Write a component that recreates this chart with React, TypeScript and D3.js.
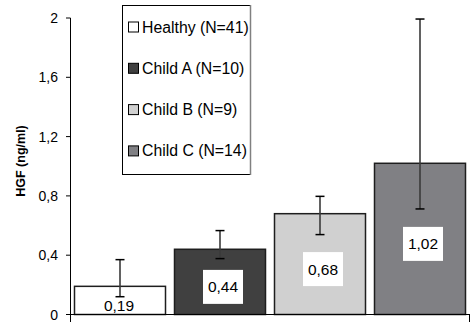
import React from "react";
import * as d3 from "d3";

const categories = ["Healthy (N=41)", "Child A (N=10)", "Child B (N=9)", "Child C (N=14)"];
const values = [0.19, 0.44, 0.68, 1.02];
const errLow = [0.12, 0.377, 0.539, 0.712];
const errHigh = [0.37, 0.566, 0.797, 1.993];
const valueLabels = ["0,19", "0,44", "0,68", "1,02"];
const colors = ["#ffffff", "#404040", "#d0d0d0", "#808084"];
const yTicks = [0, 0.4, 0.8, 1.2, 1.6, 2];
const yTickLabels = ["0", "0,4", "0,8", "1,2", "1,6", "2"];
const yTitle = "HGF (ng/ml)";

const W = 471;
const H = 322;
const FONT = "'Liberation Sans', Arial, Helvetica, sans-serif";

export default function App() {
  const x = d3.scaleBand<string>().domain(categories).range([70, 470]).paddingInner(0.09).paddingOuter(0.045);
  const y = d3.scaleLinear().domain([0, 2]).range([314.5, 18]);
  const bw = x.bandwidth();

  return (
    <svg width={W} height={H} style={{ position: "absolute", left: 0, top: 0, background: "#fff" }} fontFamily={FONT}>
      {/* bars */}
      {categories.map((c, i) => (
        <rect key={c} x={x(c)!} y={y(values[i])} width={bw} height={y(0) - y(values[i])}
          fill={colors[i]} stroke="#1e1e1e" strokeWidth={1.5} />
      ))}
      {/* value label boxes */}
      {categories.map((c, i) => {
        const cx = x(c)! + bw / 2 + (i > 0 ? 3 : -1);
        const cy = y(values[i] / 2) + 5;
        return (
          <g key={c + "lbl"}>
            {i > 0 && <rect x={cx - 20} y={cy - 17} width={40} height={34} fill="#fff" />}
            <text x={cx} y={cy} textAnchor="middle" dominantBaseline="central" fontSize={15.5} fill="#000">
              {valueLabels[i]}
            </text>
          </g>
        );
      })}
      {/* error bars */}
      {categories.map((c, i) => {
        const cx = x(c)! + bw / 2;
        return (
          <g key={c + "err"}>
            <line x1={cx} x2={cx} y1={y(errLow[i])} y2={y(errHigh[i])} stroke="#3a3a3a" strokeWidth={1.6} />
            <line x1={cx - 4.5} x2={cx + 4.5} y1={y(errLow[i])} y2={y(errLow[i])} stroke="#000" strokeWidth={1.5} />
            <line x1={cx - 4.5} x2={cx + 4.5} y1={y(errHigh[i])} y2={y(errHigh[i])} stroke="#000" strokeWidth={1.5} />
          </g>
        );
      })}
      {/* axes */}
      <line x1={70.5} x2={70.5} y1={y(2)} y2={H} stroke="#000" strokeWidth={1} />
      <line x1={70} x2={470} y1={y(0)} y2={y(0)} stroke="#000" strokeWidth={1.2} />
      <line x1={469.5} x2={469.5} y1={y(0)} y2={H} stroke="#000" strokeWidth={1} />
      {yTicks.map((t, i) => (
        <g key={"t" + t}>
          <line x1={66} x2={70.5} y1={y(t)} y2={y(t)} stroke="#000" strokeWidth={1} />
          <text x={58} y={y(t)} textAnchor="end" dominantBaseline="central" fontSize={14} fill="#000">
            {yTickLabels[i]}
          </text>
        </g>
      ))}
      <text transform={`translate(21,161) rotate(-90)`} textAnchor="middle" dominantBaseline="central"
        fontSize={12.5} fontWeight="bold" fill="#000">{yTitle}</text>
      {/* legend */}
      <rect x={122.5} y={5.5} width={128} height={169} fill="#fff" stroke="#000" strokeWidth={1} />
      <line x1={250.5} x2={250.5} y1={5} y2={175} stroke="#808080" strokeWidth={1.5} />
      {categories.map((c, i) => {
        const cy = 27 + i * 41.3;
        return (
          <g key={c + "leg"}>
            <rect x={128.5} y={cy - 5} width={10} height={10} fill={colors[i]} stroke="#000" strokeWidth={1} />
            <text x={142} y={cy} dominantBaseline="central" fontSize={15.8} fill="#000">{c}</text>
          </g>
        );
      })}
    </svg>
  );
}
